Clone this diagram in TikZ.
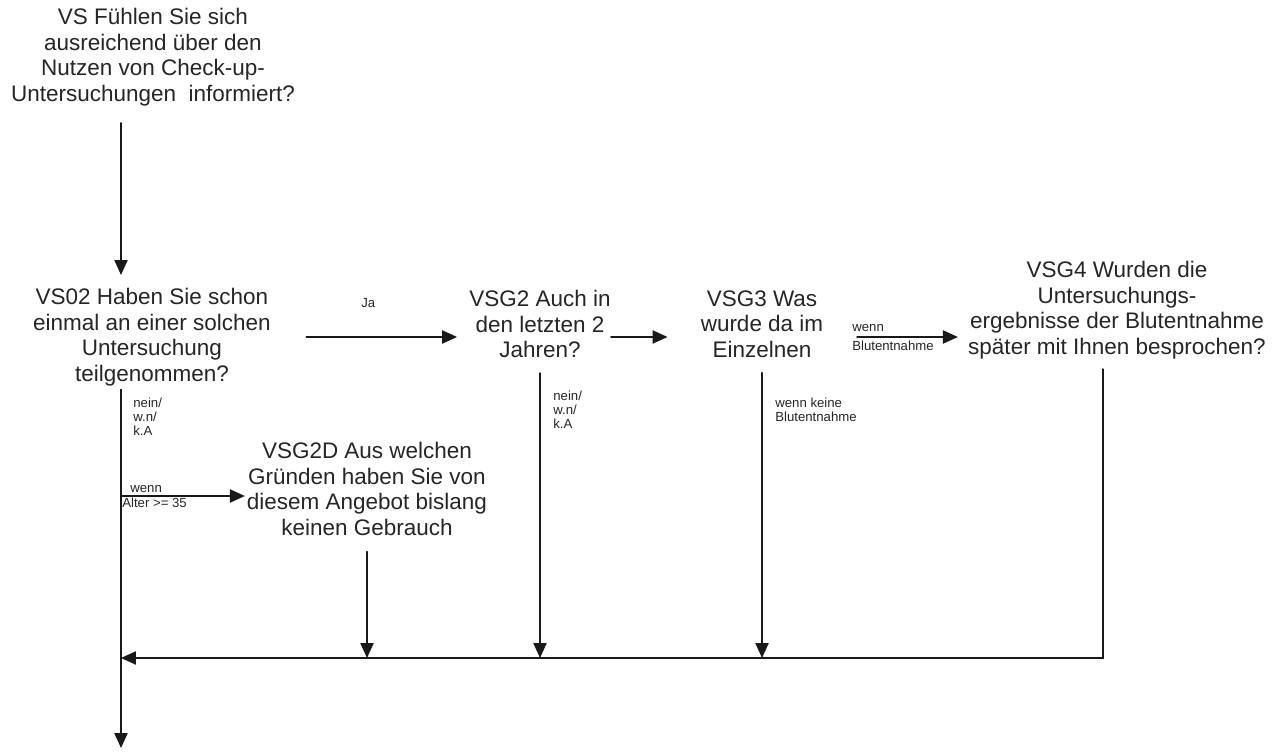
\documentclass[tikz,border=0pt]{standalone}
\usepackage{fontspec}
\setmainfont{Liberation Sans}
\usetikzlibrary{arrows.meta}

\tikzset{
    question/.style={align=center, inner sep=0pt, text=black!85,
        font=\fontsize{12.8}{14.5}\selectfont},
    cond/.style={align=left, inner sep=0pt, anchor=west, text=black!85,
        font=\fontsize{7.5}{8}\selectfont},
    flow/.style={line width=0.85pt, draw=black!90, -{Triangle[length=8.5pt, width=7.5pt]}},
}

\begin{document}
\begin{tikzpicture}[x=0.02cm, y=-0.02cm, line cap=round]
    \useasboundingbox (0,0) rectangle (1280,756);

    % Coordinates
    \coordinate (T) at (121,658);
    \coordinate (out) at (121,748);
    \coordinate (R) at (0,337);
    \coordinate (R2) at (0,496);

    % Questions
    \node[question] (VS) at (153,57) {VS Fühlen Sie sich\\ausreichend über den\\Nutzen von Check-up-\\Untersuchungen\ \ informiert?};
    \node[question] (VS02) at (152,337) {VS02 Haben Sie schon\\einmal an einer solchen\\Untersuchung\\teilgenommen?};
    \node[question] (VSG2) at (540,324) {VSG2 Auch in\\den letzten 2\\Jahren?};
    \node[question] (VSG3) at (762,324) {VSG3 Was\\wurde da im\\Einzelnen};
    \node[question] (VSG4) at (1117,310) {VSG4 Wurden die\\Untersuchungs-\\ergebnisse der Blutentnahme\\später mit Ihnen besprochen?};
    \node[question] (VSG2D) at (367,489) {VSG2D Aus welchen\\Gründen haben Sie von\\diesem Angebot bislang\\keinen Gebrauch};

    % Conditions
    \node[cond] (ja) at (361,303) {Ja};
    \node[cond] (nein1) at (133,417) {nein/\\w.n/\\k.A};
    \node[cond] (nein2) at (553,410) {nein/\\w.n/\\k.A};
    \node[cond] (keine) at (775,410) {wenn keine\\Blutentnahme};
    \node[cond] (wenn1) at (130,489) {wenn};
    \node[cond] (alter) at (122,503) {Alter >= 35};
    \node[cond] (wenn2) at (852,328) {wenn};
    \node[cond] (blut) at (852,346) {Blutentnahme};

    % Arrows
    \draw[flow, shorten <=9.6pt, shorten >=7.4pt] (VS.south -| T) -- (VS02.north -| T);
    \draw[flow, shorten <=20pt, shorten >=6.8pt] (VS02.east |- R) -- (VSG2.west |- R);
    \draw[flow, shorten >=18.7pt] (VSG2.east |- R) -- (VSG3.west |- R);
    \draw[flow, shorten <=19pt, shorten >=5.7pt] (VSG3.east |- R) -- (VSG4.west |- R);
    \draw[flow, shorten <=2pt] (VS02.south -| T) -- (out);
    \draw[flow, shorten >=1pt] (T |- R2) -- (VSG2D.west |- R2);
    \draw[flow, shorten <=9pt] (VSG2D.south) -- (VSG2D.south |- T);
    \draw[flow, shorten <=8.5pt] (VSG2.south) -- (VSG2.south |- T);
    \draw[flow, shorten <=8.5pt] (VSG3.south) -- (VSG3.south |- T);
    \draw[flow, shorten <=5.7pt] ([xshift=-8pt]VSG4.south) -- ([xshift=-8pt]VSG4.south |- T) -- (T);
\end{tikzpicture}
\end{document}
